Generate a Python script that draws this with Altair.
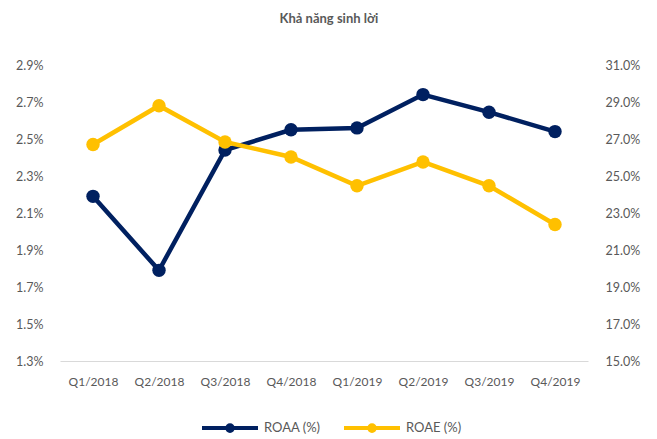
import altair as alt
import pandas as pd

quarters = ["Q1/2018", "Q2/2018", "Q3/2018", "Q4/2018",
            "Q1/2019", "Q2/2019", "Q3/2019", "Q4/2019"]
roaa = [2.19, 1.79, 2.44, 2.55, 2.56, 2.74, 2.645, 2.54]
roae = [26.7, 28.8, 26.84, 26.03, 24.47, 25.76, 24.47, 22.38]
series_names = ["ROAA (%)", "ROAE (%)"]
series_colors = ["#002060", "#FFC000"]
left_ticks = [1.3, 1.5, 1.7, 1.9, 2.1, 2.3, 2.5, 2.7, 2.9]
right_ticks = [15, 17, 19, 21, 23, 25, 27, 29, 31]
title_text = "Khả năng sinh lời"

df_a = pd.DataFrame({"quarter": quarters, "value": roaa, "series": series_names[0]})
df_e = pd.DataFrame({"quarter": quarters, "value": roae, "series": series_names[1]})

FONT = "Lato"
GREY = "#595959"

x_enc = alt.X("quarter:N", sort=quarters, title=None,
              scale=alt.Scale(paddingInner=0, paddingOuter=0),
              axis=alt.Axis(labelAngle=0, ticks=False, domainColor="#D9D9D9",
                            domainWidth=1, labelColor=GREY, labelFontSize=12,
                            labelFont=FONT, labelPadding=15, grid=False))

legend_path = ("M-1,0L1,0M-0.1,0A0.1,0.1,0,1,0,0.1,0"
               "A0.1,0.1,0,1,0,-0.1,0Z")

color_enc = alt.Color("series:N",
                      scale=alt.Scale(domain=series_names, range=series_colors),
                      legend=alt.Legend(title=None, orient="none", direction="horizontal",
                                        legendX=140, legendY=333,
                                        symbolType=legend_path, symbolSize=3136,
                                        symbolStrokeWidth=4, symbolOpacity=1,
                                        labelFont=FONT, labelFontSize=13,
                                        labelColor=GREY, labelOffset=4,
                                        columnPadding=15))

y_left = alt.Y("value:Q", title=None,
               scale=alt.Scale(domain=[1.3, 2.9], nice=False, zero=False),
               axis=alt.Axis(orient="left", values=left_ticks,
                             labelExpr="format(datum.value, '.1f') + '%'",
                             ticks=False, domain=False, grid=False,
                             labelColor=GREY, labelFontSize=12.5, labelFont=FONT,
                             labelPadding=17))
y_right = alt.Y("value:Q", title=None,
                scale=alt.Scale(domain=[15, 31], nice=False, zero=False),
                axis=alt.Axis(orient="right", values=right_ticks,
                              labelExpr="format(datum.value, '.1f') + '%'",
                              ticks=False, domain=False, grid=False,
                              labelColor=GREY, labelFontSize=12.5, labelFont=FONT,
                              labelPadding=17))

base_a = alt.Chart(df_a).encode(x=x_enc, y=y_left, color=color_enc)
base_e = alt.Chart(df_e).encode(x=x_enc, y=y_right, color=color_enc)

layer_a = alt.layer(base_a.mark_line(strokeWidth=4.5),
                    base_a.mark_point(filled=True, size=180, opacity=1))
layer_e = alt.layer(base_e.mark_line(strokeWidth=4.5),
                    base_e.mark_point(filled=True, size=180, opacity=1))

chart = alt.layer(layer_a, layer_e).resolve_scale(y="independent").properties(
    width=528, height=296,
    autosize=alt.AutoSizeParams(type="none"),
    padding={"left": 52, "top": 57, "right": 60, "bottom": 76},
    title=alt.TitleParams(title_text, fontSize=13, fontWeight="bold", color=GREY,
                          font=FONT, anchor="middle", offset=33, dx=5),
).configure_view(stroke=None)

chart.save("out.html", embed_options={"renderer": "svg", "actions": False})
